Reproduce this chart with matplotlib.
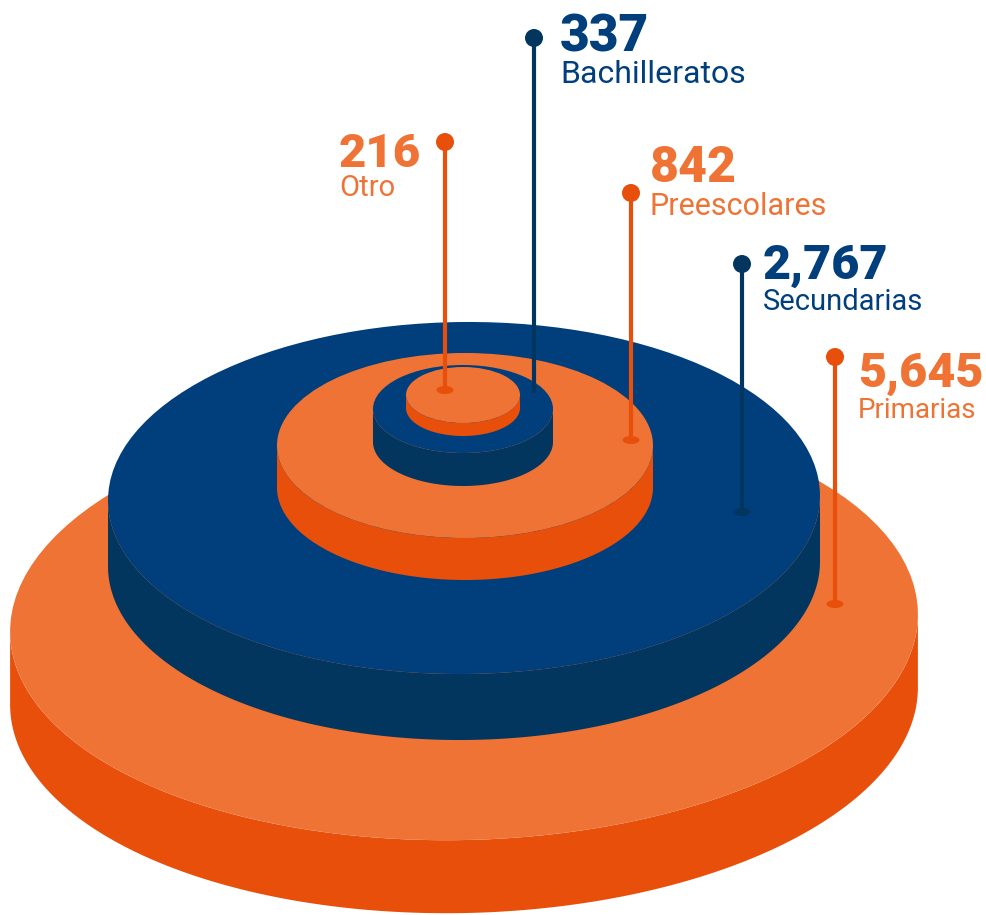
"""Escuelas por nivel - gráfico de cilindros apilados"""

import numpy as np
import matplotlib
matplotlib.use("Agg")
import matplotlib.pyplot as plt
from matplotlib.patches import Polygon, Circle, Ellipse

# Datos
categorias = ["Primarias", "Secundarias", "Preescolares", "Bachilleratos", "Otro"]
valores = [5645, 2767, 842, 337, 216]

# Colores
NARANJA = "#EF7334"
NARANJA_OSC = "#E84F0A"
AZUL = "#003F7C"
AZUL_OSC = "#02365E"

color_cara = [NARANJA, AZUL, NARANJA, AZUL, NARANJA]
color_lado = [NARANJA_OSC, AZUL_OSC, NARANJA_OSC, AZUL_OSC, NARANJA_OSC]

# Geometría de cada capa (px): centro, semiejes, grosor, inclinación
capa_cx = [464, 464, 465, 463, 463]
capa_cy = [623, 498, 445.5, 409, 395]
capa_a = [454, 356, 188, 90, 57]
capa_b = [217, 176, 92.5, 44, 28]
capa_t = [73, 66, 42, 33, 13]
capa_ang = [-1.4, -0.5, 0, 0, 0]

# Alfileres y textos
pin_x = [835, 742, 631, 534, 445]
pin_arriba = [357, 264, 193, 38, 142]
pin_abajo = [604, 512, 440, 393, 390]
pin_marca = [True, True, True, False, True]
texto_x = [858, 763, 650, 560, 339]
num_base = [387, 279, 182, 52, 167]
etiq_base = [418, 310, 215, 83, 196]
num_tam = [35, 35, 36, 37, 34]
etiq_tam = [20, 21, 22, 23, 21]


def capa(ax, cx, cy, a, b, t, ang, cara, lado, z):
    """Dibuja un cilindro: lateral (banda) y cara superior (elipse)"""
    r = np.deg2rad(ang)
    th_d = np.arctan2(-b * np.sin(r), a * np.cos(r))
    th = np.linspace(th_d, th_d + np.pi, 400)
    x = cx + a * np.cos(th) * np.cos(r) - b * np.sin(th) * np.sin(r)
    y = cy + a * np.cos(th) * np.sin(r) + b * np.sin(th) * np.cos(r)
    lado_pts = np.vstack([np.column_stack([x, y]),
                          np.column_stack([x[::-1], y[::-1] + t])])
    ax.add_patch(Polygon(lado_pts, closed=True, facecolor=lado,
                         edgecolor="none", zorder=z))
    ax.add_patch(Ellipse((cx, cy), 2 * a, 2 * b, angle=ang, facecolor=cara,
                         edgecolor="none", zorder=z + 0.5))


# Creación de la figura
fig = plt.figure(figsize=(9.86, 9.15), dpi=100)
ax = fig.add_axes([0, 0, 1, 1])
ax.set_xlim(0, 986)
ax.set_ylim(915, 0)
ax.set_aspect("equal")
ax.axis("off")

# Capas, de la más grande a la más pequeña
for i in range(len(categorias)):
    capa(ax, capa_cx[i], capa_cy[i], capa_a[i], capa_b[i], capa_t[i],
         capa_ang[i], color_cara[i], color_lado[i], z=2 + i)

# Alfileres y etiquetas
for i, (cat, val) in enumerate(zip(categorias, valores)):
    c_pin = color_lado[i]
    c_txt = color_cara[i]
    ax.plot([pin_x[i], pin_x[i]], [pin_arriba[i], pin_abajo[i]],
            color=c_pin, lw=3.0, solid_capstyle="butt", zorder=20)
    ax.add_patch(Circle((pin_x[i], pin_arriba[i]), 9, facecolor=c_pin,
                        edgecolor="none", zorder=21))
    if pin_marca[i]:
        ax.add_patch(Ellipse((pin_x[i], pin_abajo[i]), 17, 8, facecolor=c_pin,
                             edgecolor="none", zorder=21))
    ax.text(texto_x[i], num_base[i], f"{val:,}", color=c_txt,
            fontsize=num_tam[i], fontweight="black", family="Roboto",
            ha="left", va="baseline", zorder=22)
    ax.text(texto_x[i], etiq_base[i], cat, color=c_txt, fontsize=etiq_tam[i],
            family="Roboto", ha="left", va="baseline", zorder=22)

# Desado como imagen
fig.savefig("out.png", dpi=100, facecolor="white")
plt.close(fig)
